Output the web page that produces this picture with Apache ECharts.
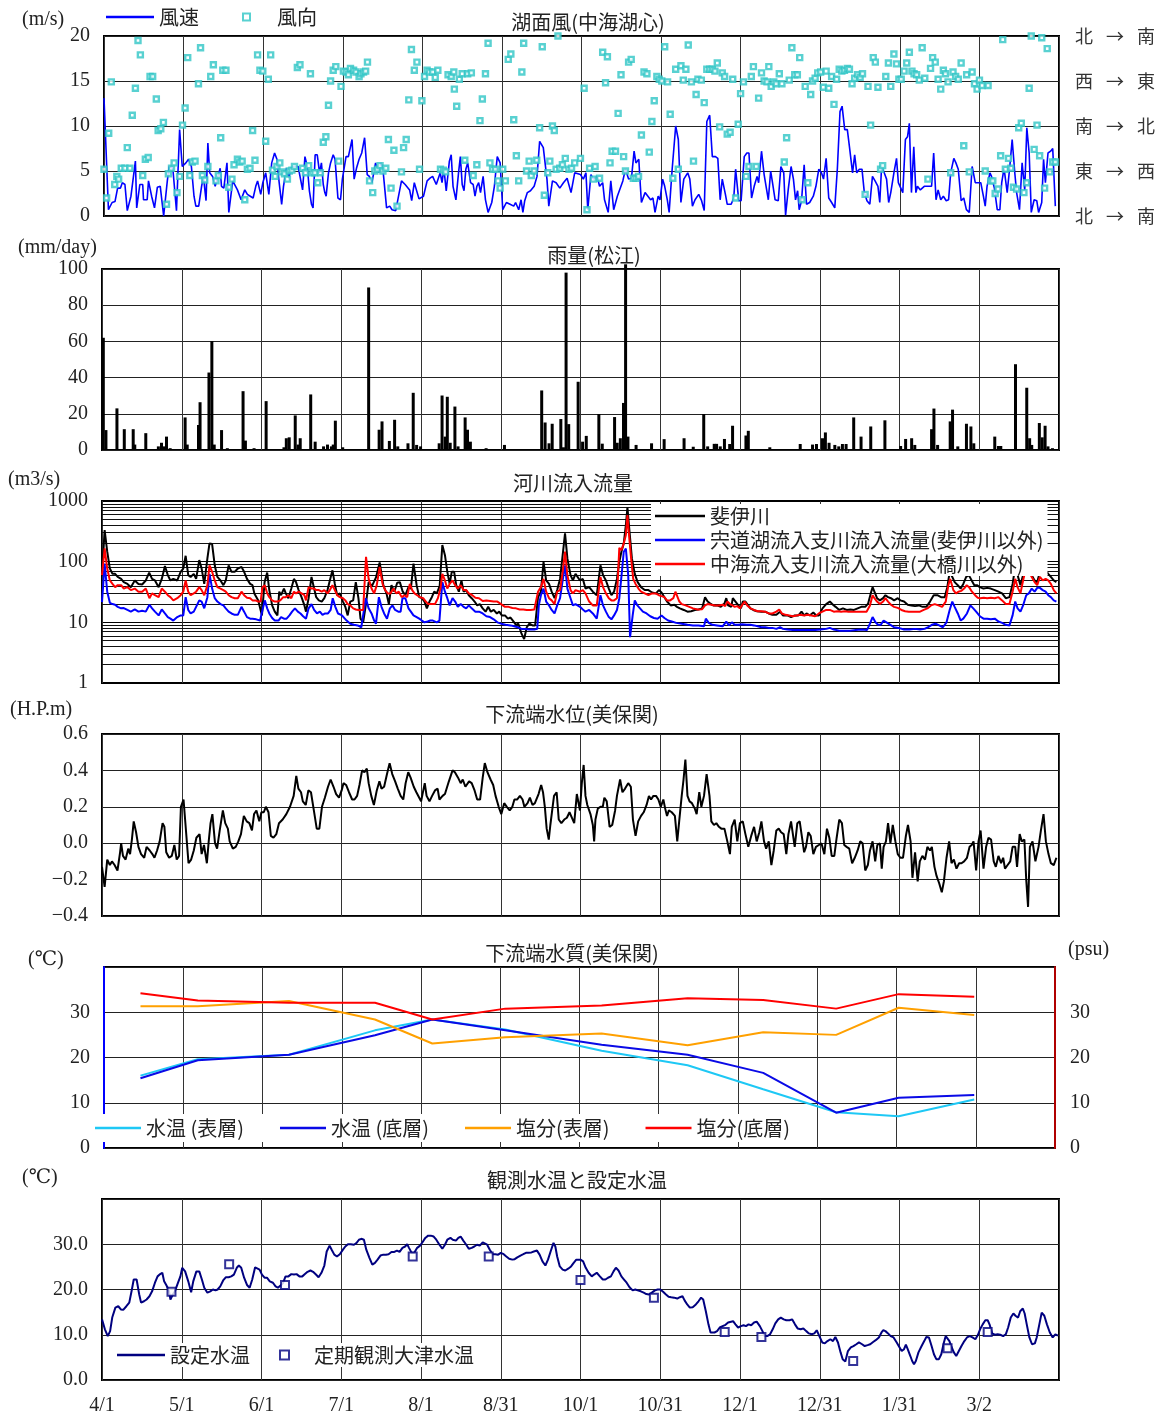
<!DOCTYPE html>
<html><head><meta charset="utf-8">
<script src="https://cdn.jsdelivr.net/npm/echarts@6/dist/echarts.min.js"></script>
<style>html,body{margin:0;padding:0;background:#fff}#c{width:1164px;height:1421px}</style>
</head><body><div id="c"></div>
<script>
// ---------- tick labels ----------
const xLabels = ['4/1','5/1','6/1','7/1','8/1','8/31','10/1','10/31','12/1','12/31','1/31','3/2'];
const dirLabels = ['北\u2002 → \u2002南','東\u2002 → \u2002西','南\u2002 → \u2002北','西\u2002 → \u2002東','北\u2002 → \u2002南'];
const minorLogLines = [2,3,4,5,6,7,8,9,20,30,40,50,60,70,80,90,200,300,400,500,600,700,800,900];

// ---------- 湖面風 (day, m/s) ----------
const windSpeed = [[0,13.1],[1.7,0.7],[3.1,1.5],[4.2,1.6],[5.2,3.1],[6.3,3.1],[7,3.7],[8,3.5],[8.9,0.6],[10.3,2.2],[12,6.1],[12.5,0.9],[13.7,3.5],[14.8,3.5],[15.1,1.8],[16.5,1.8],[17,3.9],[18.2,2.2],[19.3,0.9],[20.4,3.2],[21.5,3.3],[22.8,0],[24.2,3.9],[24.9,5.5],[26.3,5.3],[27.7,0.6],[28.9,9.6],[29.9,5.5],[31.3,5.9],[32.3,6.3],[33.4,5.5],[34.4,2.2],[35.1,1.1],[36.2,1.1],[37.3,3.3],[38,4.4],[39,1.7],[39.7,8.1],[40.4,4.8],[41.5,4.4],[42.5,3.3],[43.2,4.1],[44.4,5.3],[44.9,3.3],[45.8,3.1],[47,5.9],[47.7,0.4],[49.2,3.9],[51,2.9],[52.4,1.8],[53.8,2.9],[54.8,2.4],[55.9,2.2],[57,2],[58,3.3],[58.7,3.9],[59.9,2.4],[60.7,3.7],[61.8,4.8],[63,2.4],[64.1,5.9],[65.2,7],[66.1,6.3],[66.8,4.1],[67.9,1.3],[68.6,3.3],[69.7,5.3],[70.7,4.2],[71.4,5.3],[72.8,5.5],[74.2,5.5],[74.9,5.7],[75.9,2.9],[76.8,6.6],[77.7,5.5],[78.5,2.8],[79.3,1.3],[79.9,0.9],[80.7,6.8],[81.5,6.8],[82.4,4.8],[83.1,5.9],[83.8,3.5],[84.4,2.6],[84.9,2.2],[85.8,4.8],[86.6,5.9],[87.6,6.8],[88.3,6.3],[89.4,2],[90.4,1.8],[91.1,4.1],[92.5,6.6],[93.4,6.6],[94.8,8.5],[95.6,4.1],[96.5,5.3],[97.5,6.3],[98.5,7],[99.6,8.7],[100.6,4.6],[101.4,4.4],[102.4,3.7],[103.1,4.8],[103.8,5.9],[104.9,4.8],[105.9,5.9],[106.6,5.2],[108,0.9],[109.2,1.1],[110.1,0.7],[111.5,0.6],[113.7,3.9],[115.1,3.5],[115.8,3.3],[116.8,2.9],[117.6,1.7],[118.6,3.7],[119.3,3.9],[120.4,1.9],[121,2],[122.1,2.2],[122.8,2],[123.5,3.9],[124.6,4.2],[125.6,4.4],[127,3.5],[128.5,4.8],[129.2,3.7],[129.9,5.3],[130.8,2.8],[132,6.1],[132.7,6.8],[133.4,3.3],[134.5,1.8],[135.5,4.8],[136.2,6.6],[136.9,3.5],[137.6,2.8],[138.3,5.2],[139,5.9],[140.1,3.7],[141.1,3.5],[141.8,2.2],[142.5,3.3],[143.2,3.7],[143.9,2.6],[144.9,4.4],[145.8,1.8],[146.8,0.4],[148.2,1.5],[149.2,3.3],[150.3,6.6],[151.4,5.9],[152.4,0.7],[153.8,1.5],[155.2,1.3],[156.6,1.1],[157.3,1.5],[158.5,0.7],[159.4,1.8],[160.1,0.4],[160.8,1.7],[161.8,2.6],[163,2.8],[164.4,3.3],[165.5,4.4],[166.5,8.3],[167.9,7.6],[169.3,4.1],[170,1.1],[170.7,1.1],[171.4,3.9],[172.8,3.7],[174.2,3.1],[175.6,3.7],[177,4.2],[178.5,2.6],[179.9,4.8],[182.1,4.6],[183.2,4.1],[184.2,4.8],[184.9,0.7],[186.1,4.6],[187,4.1],[188.5,4.4],[189.4,3.3],[190.6,3.7],[191.3,1.8],[192.7,0.4],[193.7,3.9],[194.8,0.7],[196.2,2.2],[196.9,2.4],[198.3,3.9],[199.3,5.2],[200.5,4.1],[201.6,4.2],[202.6,7.2],[203.3,5.9],[204.4,6.3],[205,3.3],[205.4,1.5],[206.8,2.6],[207.5,2.4],[208.9,1.8],[209.8,2],[210.6,0.4],[211.8,2.2],[212.5,1.8],[213.5,4.1],[214.3,3.3],[215.3,1.8],[216,0.4],[217.1,5],[218.5,10],[219.5,8.5],[220.5,1.5],[221.6,4.1],[223.1,4.8],[223.9,4.1],[224.9,1.1],[225.9,1.8],[227.3,2.4],[228.4,1.7],[229.4,0.6],[230.4,10.5],[231.5,11.2],[232.5,6.6],[233.7,6.6],[234.6,6.4],[235.5,1.8],[236.3,4.1],[237.5,2.4],[238.2,1.3],[238.9,1.1],[239.7,1.3],[240.7,2],[241.4,5.2],[242.6,1.7],[243.5,1.7],[244.7,6.6],[245.7,7],[246.5,7],[247.5,2],[248.5,3.3],[249.6,4.4],[250.2,3.7],[251.3,7.2],[252.3,4.6],[253,4.4],[253.9,1.8],[254.8,5],[255.5,3.7],[256.5,1.8],[257.7,1.7],[258.7,5.5],[259.8,4.8],[260.5,0.1],[261.5,2.9],[262.6,5.5],[263.5,4.1],[264.3,1.8],[265.1,2.8],[265.7,0.7],[266.6,1.7],[267.6,5.7],[268.5,1.3],[269.7,1.5],[271.1,2.2],[272.1,3.3],[273.2,5.2],[274.2,4.8],[275,4.1],[276,6.4],[277,2],[278.1,1.5],[279.3,0.9],[280.3,5.3],[281.3,11.6],[282.1,12.2],[283.1,9.6],[284.1,9.6],[284.9,7.7],[286.1,4.8],[286.9,6.8],[287.7,4.8],[288.7,5.2],[289.7,5.2],[290.6,2.6],[291.6,1.7],[292.7,1.3],[293.7,4.4],[294.7,3.9],[295.8,3.3],[296.5,1.5],[297.2,5.5],[298.2,4.8],[299.1,4.1],[299.9,1.5],[300.7,2.6],[301.9,4.8],[302.9,6.4],[303.6,3.7],[305.3,2.6],[306.3,8.5],[307.1,8.8],[307.8,10.3],[308.6,2.6],[309.5,7.7],[310.3,2.6],[310.9,3.3],[312,2.9],[313.5,3.3],[315.1,3.3],[316.3,3.3],[317.1,7],[318,1.8],[318.8,2.9],[319.8,1.8],[320.8,2.2],[321.9,1.7],[322.8,1.8],[323.6,4.8],[324.8,6.4],[325.6,5.9],[326.5,5.2],[327.6,1.7],[328.6,2],[329.6,0.7],[330.7,0.4],[331.8,5.5],[333,3.7],[334.1,3.7],[335.1,3.7],[336.1,2.2],[336.8,1.1],[337.5,3.3],[338.6,4.8],[339.2,4.4],[340.3,3.1],[341.4,0.7],[342.4,0.7],[343.1,3.7],[344,5.3],[345.2,2.6],[346.2,5.5],[347.1,8.5],[348.1,4.8],[348.8,2.6],[349.9,0.7],[350.9,5.9],[351.9,2.9],[352.7,9.8],[353.6,7],[354.4,0.4],[355.5,1.8],[356.5,1.7],[357.2,0.4],[358.4,1.5],[359.1,6.3],[359.8,3.7],[360.8,7],[361.8,7.2],[362.6,7.5],[363.6,1.1]];

const windDir = [[0,5.2],[1,2],[1.8,9.2],[2.8,14.9],[4.1,3.5],[4.9,4.4],[5.6,4.1],[6.6,5.3],[8,5.3],[8.9,7.6],[9.9,5.3],[10.8,11.2],[12,14.2],[13,19.5],[13.9,17.9],[14.8,4.5],[15.8,6.3],[16.9,6.5],[17.6,15.5],[18.6,15.5],[20,13],[20.7,9.5],[21.7,9.7],[22.7,10.4],[23.9,1.3],[24.6,4.7],[25.8,5.3],[26.8,5.9],[27.9,2.6],[28.9,4.4],[30,10.1],[31,12],[32,17.6],[32.8,4.5],[33.7,6],[34.8,6.1],[36.1,14.7],[36.9,18.7],[37.6,4.5],[38.5,4],[39.7,5.5],[40.8,15.5],[41.8,16.8],[42.8,3.9],[43.7,4.5],[44.6,8.7],[45.4,16.2],[46.6,16.2],[47.7,3.2],[48.9,4.1],[49.7,5.7],[51,6.3],[51.9,6],[52.8,6.1],[53.8,1.8],[54.8,5.2],[55.8,5.3],[56.8,9.5],[57.7,6.2],[58.7,17.9],[59.6,16.2],[60.7,16.1],[61.8,8.3],[62.8,15.2],[63.7,17.9],[64.4,5.1],[65.4,4.4],[66.1,5.5],[67.2,5.9],[68,4.9],[69,4.7],[70.1,4.1],[70.8,5],[71.8,5.1],[72.8,5.5],[73.9,16.5],[74.9,16.8],[75.9,5.3],[77,4.8],[78.2,5.6],[78.9,15.8],[79.6,4.8],[80.6,4.8],[81.7,3.7],[82.7,4.8],[83.8,8.2],[84.8,8.8],[85.8,12.3],[86.6,15],[87.6,16.2],[88.6,16.6],[89.7,6.1],[90.6,14.4],[91.5,16.1],[92.5,16],[93.4,15.7],[94.2,16.4],[95.4,16.2],[96.3,16],[97.5,15.5],[98.2,15.8],[99.2,16],[100,16.1],[100.7,17.1],[101.5,3.9],[102.7,2.6],[103.5,5],[104.5,5.2],[105.5,5.6],[106.6,5],[107.7,5.3],[108.7,8.5],[109.7,3.1],[110.8,7.3],[112,1.1],[113.7,4.9],[114.5,7.6],[115.5,8.5],[116.5,12.9],[117.5,18.5],[118.6,16.2],[119.6,17.1],[120.6,5.2],[121.5,12.8],[122.5,15.5],[123.5,16.2],[124.4,16],[125.6,16],[126.6,15.4],[127.6,16.2],[128.6,5.2],[129.7,5.1],[130.6,4.9],[131.5,15.7],[132.7,15.5],[133.7,16],[133.9,14.1],[134.8,12.2],[135.8,15.2],[136.9,15.8],[137.9,6.2],[139,15.8],[140.4,15.9],[141.1,4.5],[142.5,5.7],[143.7,10.6],[144.6,13],[145.8,15.8],[146.8,19.2],[147.5,5.9],[148.5,5.2],[149.6,5.2],[150.6,3.9],[151.4,3.1],[152.4,5.2],[153.4,3.9],[154.5,17.4],[155.5,18],[156.6,10.7],[157.6,6.7],[158.5,3.9],[159.7,16],[160.4,19.2],[161.5,5],[162.5,6.1],[163.3,4.5],[164.4,5],[165.4,6.2],[166.5,9.8],[167.5,18.8],[168.3,2.3],[169.6,4.8],[170.4,6.1],[171.4,10],[172.1,9.5],[172.8,5.2],[173.5,20],[174.2,5.3],[175.2,5.7],[176.3,6.4],[177.7,5.2],[178.7,5.3],[179.9,5.9],[182.1,6.4],[183.5,14.2],[184.6,0.7],[185.6,5.3],[187,4.1],[187.7,5.5],[189.4,4.2],[190.6,18.2],[191.7,14.8],[192.4,17.7],[193.4,5.9],[194.2,7.2],[195.5,7.2],[196.5,11.4],[197.6,15.7],[198.6,6.6],[199.3,5],[200.5,17.1],[201.5,17.4],[202.3,4.2],[203.3,4.2],[204.3,4.4],[205.4,9],[206.4,16],[207.5,15.8],[208.4,7.1],[209.4,10.5],[210.3,12.8],[211.3,15.5],[212.2,15.2],[213.2,15],[214.3,18.8],[215.4,14.9],[216.4,11.3],[217.4,4.2],[218.5,16.3],[219.5,5.2],[220.5,16.7],[221.4,15.1],[222.4,16.3],[223.3,19],[224.5,14.9],[225.3,6.1],[226.3,13.5],[227,15.2],[228.3,15.1],[229.4,12.6],[230.4,16.3],[231.5,16.3],[232.5,16.3],[233.5,16.1],[234.4,17],[235.3,9.9],[236.3,15.9],[237.2,15.5],[238.2,9.1],[239.3,9.3],[240.3,15.2],[241.4,2],[242.4,10.2],[243.3,13.6],[244.4,14.9],[245.4,4.4],[246.5,5.5],[247.4,15.5],[248.2,16.6],[249.3,5.5],[250.2,13.1],[251.3,15.9],[252.3,15],[253.4,14.9],[254.1,16.6],[255,14.4],[256,14.9],[256.9,14.7],[258.1,15.8],[259.1,14.7],[260,6],[260.9,8.7],[261.9,15.1],[262.9,18.7],[264,15.7],[265,15.7],[265.9,17.6],[266.8,1.8],[268,14.4],[269,3.7],[270.1,13.5],[270.8,15],[271.8,15.3],[272.8,15.9],[273.9,16],[274.9,14.3],[276,16.1],[277,14.2],[278.1,15.5],[279,12.4],[280,15.2],[281,16.3],[282,16.1],[283,16.2],[284.1,16.4],[284.9,16.3],[285.9,14.7],[286.9,15.3],[288,15.7],[289,15.4],[289.9,15.8],[290.9,2.4],[292,14.4],[293,10.1],[294,17.6],[294.8,17.1],[295.8,14.3],[296.8,5.2],[297.6,5.6],[298.8,15.5],[299.8,17],[300.7,14.4],[301.9,18],[302.9,16.9],[303.8,15.2],[304.7,15.2],[305.8,16.1],[306.8,17],[307.8,18.2],[308.8,16.1],[309.6,15.8],[310.6,15.7],[311.6,15.1],[312.7,18.7],[313.7,15.3],[314.9,4.1],[315.9,16.4],[316.7,17.6],[317.7,17.1],[318.8,15.2],[319.8,14.1],[320.8,16.2],[321.6,15.8],[322.6,14.9],[323.6,4.8],[324.5,16],[325.5,15.5],[326.5,15.2],[327.6,17],[328.6,7.8],[329.7,15.7],[330.7,4.9],[331.8,16],[332.7,14.7],[333.7,14.1],[334.6,15.1],[335.6,14.5],[336.8,5],[337.9,14.5],[338.9,3.9],[339.7,3.9],[340.6,2.5],[341.7,3],[342.7,6.7],[343.5,19.6],[344.5,5.2],[345.7,6.4],[346.6,5.3],[347.6,3.2],[348.8,3],[349.6,9.8],[350.6,10.3],[351.6,2.6],[352.6,3.7],[353.6,14.2],[354.4,20],[355.5,7.4],[356.6,10.1],[357.6,6.7],[358.4,19.8],[359.5,3.1],[360.5,18.6],[361.5,4.9],[362.6,6],[363.6,6]];

// ---------- 雨量 (day, mm/day) ----------
const rain = [[0.5,62],[1.5,11],[5.7,23],[8.5,11.5],[11.9,11.5],[12.5,3],[16.7,9.3],[21.5,2],[22.7,4],[23.5,2],[24.6,7.4],[26,1],[31.7,18],[32.5,3],[36.8,13.8],[37.4,26.4],[40.8,42.8],[41.9,60.2],[42.8,3],[45.6,11],[47.8,1],[53.8,32.5],[54.7,5.2],[58,1],[62.6,27],[69.4,1.5],[70.3,6.5],[71.4,7],[73.7,19.1],[74.8,3],[75.6,6.5],[79.6,30.7],[81.3,4.6],[84.5,2],[86,3],[87.5,2],[88.2,3],[89,16.2],[91.8,1.5],[101.7,89.8],[105.7,11.2],[106.8,15.8],[109.6,5],[111.6,16.7],[112.8,2],[116.7,3.7],[118.7,31.6],[120,2.8],[121.5,2],[128.6,3.7],[129.7,30.1],[130.9,7.4],[131.7,29.4],[132.8,4],[134.6,24],[135.8,2],[138.5,18],[139.4,11.2],[140.5,4.6],[146.5,1],[153.5,2.8],[167.7,32.9],[169,15.2],[170.5,3.7],[171.7,14.5],[175,17.1],[176,1.5],[177,98],[178,14.3],[181.6,37.7],[183.3,4.6],[184.7,7.8],[189.5,19.9],[190.8,3.5],[195.5,18.2],[196.5,4],[197.7,6.5],[198.9,26],[199.7,102.6],[200.6,7.4],[203.7,2.8],[209.6,3.7],[214.4,6],[222,6.5],[225.5,1.8],[229.5,19.9],[231,2],[233.5,3.4],[234.4,3.4],[235.8,2],[237.4,6.1],[239.4,3.3],[240.5,13.4],[245.6,8],[246.5,10.6],[254.7,1.5],[266.3,3.3],[271,3],[272.5,3.3],[274.8,6.5],[275.9,9.7],[277.3,4],[279.5,2.8],[281,2],[282.4,3.3],[283.8,3.3],[286.7,18],[289.5,7.4],[293.2,13],[298.6,16.4],[304.6,2.2],[306.5,6.1],[308.8,6.5],[310,2.8],[316.4,11.5],[317.3,22.9],[318.7,2.8],[323.5,15.8],[324.4,22.3],[326.4,2],[329.7,14.5],[331.4,13],[332.5,3.7],[340.5,7.4],[341.9,2.2],[342.8,2.2],[348.4,47.4],[352.7,34.4],[353.8,6.5],[354.6,2.8],[357.5,14.9],[358.6,7],[359.7,13.4],[360.8,2],[362.5,1]];

// ---------- 河川流入流量 (day, m3/s) ----------
const flowHii = [[0,60],[1,331],[2,146],[3,77],[4,63],[5,63],[6,56],[7.3,52],[8.3,46],[9.7,43],[11,38],[12.5,49],[13.9,43],[15.3,42],[16.7,49],[18,66],[19.1,52],[20.2,49],[21.6,38],[22.8,52],[24,85],[25.1,60],[26.1,49],[27.2,52],[28.7,49],[30,68],[31,77],[31.9,125],[32.9,60],[33.8,56],[35,63],[35.9,52],[37.1,106],[38,77],[39,43],[40.2,113],[41,200],[42,195],[43,87],[44,56],[45.2,49],[46.3,41],[47.2,49],[48.3,87],[49.4,68],[50.6,68],[51.8,77],[53.2,82],[54.2,68],[55.3,52],[56.5,43],[57.4,41],[58.1,30],[59.6,23],[60.3,22],[61,13],[62,46],[63,66],[63.8,34],[64.9,19],[65.9,15],[66.9,13],[67.6,32],[68.3,28],[69.4,36],[70.1,30],[71.1,25],[72.2,36],[73.2,52],[74,46],[75,34],[76.1,26],[77.2,19],[77.8,15],[78.8,25],[79.9,56],[80.9,36],[81.7,26],[82.7,23],[83.8,22],[84.8,25],[86,34],[86.9,49],[87.9,72],[88.8,43],[89.7,28],[90.7,30],[91.9,22],[92.8,18],[93.7,13],[94.7,22],[95.8,23],[96.8,46],[97.8,25],[98.6,11.5],[99.6,10],[100.6,19],[101.7,46],[103,40],[104.5,55],[105.9,97],[107.3,41],[108.5,30],[109.4,20],[110.4,41],[111.5,32],[112.6,45],[113.6,46],[114.7,32],[115.7,28],[116.9,38],[117.8,36],[118.8,93],[120,41],[121,26],[122,25],[123,22],[123.9,17],[124.9,22],[125.8,26],[126.7,32],[127.7,30],[128.8,40],[129.8,188],[130.8,128],[131.7,68],[132.6,43],[133.4,68],[134.3,68],[135.1,41],[136.1,32],[137.1,49],[137.9,32],[138.9,34],[139.9,28],[141,25],[142.1,22],[143.1,19],[144.1,20],[145.2,17],[146.3,15],[147.3,18],[148.3,15],[149.4,16],[150.6,14],[151.5,15],[152.5,13],[153.7,13],[154.8,11.5],[155.8,12],[156.7,10.7],[157.9,9.1],[158.8,9.5],[160,6.5],[161,5.3],[162,8.3],[163,9.5],[164.2,8.9],[165.2,8.9],[166.3,26],[167.4,32],[168.4,99],[169.4,49],[170.5,43],[171.5,32],[172.6,25],[173.6,34],[174.7,52],[175.7,128],[176.6,293],[177.5,113],[178.7,60],[179.6,49],[180.6,63],[182.3,49],[183.4,52],[184.4,36],[185.8,38],[187.2,32],[188.7,28],[190.1,87],[191.1,60],[192.2,49],[193.3,36],[194.3,28],[195.3,32],[196.4,52],[197.3,99],[198.1,146],[199,200],[199.8,400],[200.4,780],[201.2,310],[202.1,113],[203.2,63],[204.3,46],[205.6,38],[207,34],[208.4,34],[209.8,31],[211.3,30],[212.4,34],[213.4,31],[214.5,26],[215.5,22],[216.9,19],[218.3,19.5],[219.3,18],[220.4,17],[221.9,16],[223.3,15],[224.7,15.2],[226.1,16],[227.5,16.3],[228.9,17],[230,26],[231,22],[232,20.4],[233.1,19],[234.6,19],[236,18],[237.4,20.4],[238.1,25],[238.8,19],[240,18],[240.6,25],[241.6,22],[242.7,19],[243.7,17],[244.4,22],[245.4,22],[246.3,19.5],[247.3,17],[248.4,16],[249.8,15.2],[251.5,15],[252.9,15],[254.3,14],[255.7,13.3],[257.2,13.3],[258.6,15],[259.7,13],[261.4,13],[262.8,12.2],[264.2,13],[265.6,13],[266.8,15],[267.8,13],[268.7,14],[269.9,13],[271.3,14.5],[272.4,13],[273.4,13],[274.8,17],[276.2,20],[277.6,22],[278.8,19.5],[279.8,18],[281.2,16],[282.6,17],[284,16],[285.4,16.3],[286.8,16],[288.2,17],[289.6,18],[291.1,18],[292.2,20.4],[293.2,30],[293.9,38],[294.6,32],[295.6,25],[296.7,23],[297.9,25],[298.8,28],[299.8,26],[300.9,25],[302.1,23],[303.5,25],[304.5,23],[305.9,22],[307.3,19.5],[308.7,19],[310.1,18.5],[311.5,19],[313,18],[314.4,18],[315.8,22],[317.2,28],[318.6,28],[320,26],[321.4,26],[322.4,38],[323.3,68],[324.3,56],[325.2,46],[326.4,41],[327.5,36],[328.5,43],[329.6,56],[330.6,60],[331.7,49],[332.7,41],[333.7,41],[334.8,38],[336.2,36],[337.6,37],[339,36],[340.5,34],[341.9,32],[343.3,30],[344.7,25],[346.1,26],[347.3,43],[348.3,82],[348.9,68],[349.6,52],[350.3,41],[351.3,60],[352.5,82],[353.5,72],[354.6,60],[355.7,49],[356.7,46],[357.7,68],[358.8,68],[359.9,72],[360.9,63],[361.9,56],[363,49],[364,46]];

const flowShinji = [[0,21.5],[1,93],[2,32],[3,21],[4,20],[5,19.5],[6,18],[7.3,17],[8.3,17.2],[9.7,16],[11,15],[12.5,16.3],[13.9,15],[15.3,15.5],[16.7,15],[17.4,14],[18.1,19.5],[19.1,17],[20.2,15],[21.6,13],[22.8,16.3],[24,14],[25.1,12.2],[26.1,11.5],[27.2,10.7],[28.7,12.2],[30,13],[31,13],[31.9,26],[32.9,16],[33.8,14],[35,15],[35.9,18],[37.1,23],[38,22],[39,17],[40.2,26],[41,63],[42,36],[43,25],[44,22],[45.2,20],[46.3,19],[47.2,17],[48.3,15],[49.4,14],[50.6,13.3],[51.8,13.3],[53.2,18],[54.2,15],[55.3,12.2],[56.5,11.5],[57.4,11.5],[58.8,11.2],[60.3,10.7],[61.2,16],[62.1,23],[63,17],[63.8,14],[64.9,11.8],[65.9,10.7],[67.3,10.7],[68.3,12.2],[69.4,11.5],[70.4,11.5],[71.5,13],[72.5,15],[73.6,17],[74.7,15],[75.7,14],[76.7,12.6],[77.8,11.5],[78.8,17],[79.9,20],[80.9,16],[82,14],[83.1,15],[84.1,13.3],[85.1,14],[86.2,14],[87.2,16],[88,25],[89,18],[90,14],[91.2,13.3],[92.1,12.2],[93.3,10.7],[94.7,9.5],[96.1,9.1],[97.5,8.9],[98.9,8.3],[99.6,8.3],[100.6,25],[101.7,17],[102.8,14],[103.8,10.7],[104.5,9.5],[105.6,26],[106.6,18],[107.6,14],[108.7,11.5],[109.8,17],[110.8,19],[111.8,16],[113,15],[113.9,15],[114.6,25],[115.7,25],[116.9,17],[117.8,15],[118.8,13],[120,12.2],[121,11.5],[122,10.7],[123,10],[124.2,10.3],[125.2,10.7],[126.2,10.7],[127.7,10],[128.7,10.7],[129.8,46],[130.8,32],[131.7,25],[132.6,19],[133.7,25],[134.7,22],[135.7,18],[136.8,20],[137.9,18],[138.9,17],[139.9,19],[141,17],[142.4,15],[143.8,15],[145.2,14],[146.6,12.6],[148,12.2],[149.4,11.2],[150.8,10],[152.2,9.5],[153.9,9.1],[155.8,8.9],[157.2,8.6],[158.6,8.3],[160,7.8],[161.4,7.8],[162.8,7.6],[164.9,7.6],[166,7.8],[166.6,19],[167.4,28],[168.4,36],[169.4,22],[170.5,19],[171.5,16],[172.6,14],[173.6,19],[174.7,25],[175.7,49],[176.6,87],[177.5,36],[178.7,25],[179.6,19],[180.6,20],[182.3,18],[183.4,16.3],[184.4,15],[185.8,16],[187.2,14],[188.7,11.5],[190.1,28],[191.1,19],[192.2,15],[193.3,12.2],[194.3,11.2],[195.3,13],[196.4,16],[197.3,25],[198.1,56],[199,146],[199.8,164],[200.7,60],[201.4,5.7],[202.4,13],[203.2,23],[204.2,19],[205.2,17],[206.3,15],[207.7,14],[209.1,12.6],[210.5,11.8],[211.9,11.5],[213.4,13],[214.5,11.8],[215.9,10.7],[217.3,10.3],[219,9.8],[221.1,9.5],[223.3,9.1],[225.4,8.9],[227.5,8.9],[229.6,8.6],[230.3,11.5],[231.4,9.8],[232.8,9.1],[234.6,8.9],[236.7,8.6],[238.1,10.3],[239.1,8.9],[240.2,10],[241.3,9.1],[242.7,9.1],[244.2,9.3],[245.9,9.1],[247.3,9.1],[248.7,8.9],[250.1,8.6],[251.5,8.3],[252.9,8.3],[254.3,8.1],[255.7,8.1],[257.2,7.8],[258.6,8.3],[259.7,7.8],[261.4,7.6],[263.5,7.5],[265.6,7.5],[267.8,7.5],[270,7.5],[272,7.5],[274.1,7.6],[276.2,7.8],[277.6,8.1],[279.1,7.6],[281.2,7.3],[283.3,7.3],[285.4,7.3],[287.5,7.5],[289.6,7.6],[291.8,7.5],[292.9,9.5],[293.9,12.2],[295,10],[296,9.1],[297,9.1],[298.1,10.7],[299.2,10],[300.7,9.1],[302.1,8.3],[303.8,8.1],[305.9,7.6],[308,7.6],[310.1,7.8],[312,7.6],[313.7,7.8],[315.1,8.3],[316.5,9.1],[317.9,9.5],[319.3,8.9],[320.7,8.3],[322.1,10],[323.3,16],[324.3,22],[325.2,18],[326.4,14],[327.5,10.7],[328.5,11.5],[329.9,14],[331.2,19],[332.3,17],[333.4,15],[334.8,12.6],[336.2,11.5],[337.6,11.5],[339,11.2],[340.5,11.5],[341.9,10.3],[343.3,9.8],[344.7,9.1],[346.1,8.9],[347.3,13],[348.3,22],[349.2,17],[350.3,15],[351.3,19],[352.5,28],[353.5,30],[354.6,36],[355.7,32],[356.7,37],[357.7,37],[358.8,34],[359.9,32],[360.9,28],[361.9,26],[363,23],[364,22]];

const flowNakaumi = [[0,60],[1,165],[2,77],[3,49],[4,43],[5,38],[6,41],[7.3,41],[8.3,36],[9.7,38],[11,34],[12.5,36],[13.9,32],[15.3,32],[16.7,36],[17.4,38],[18.1,25],[19.1,30],[20.2,28],[21.6,26],[22.8,36],[24,32],[25.1,28],[26.1,26],[27.2,23],[28.7,25],[30,28],[31,32],[31.9,49],[32.9,32],[33.8,28],[35,30],[35.9,32],[37.1,38],[38,34],[39,28],[40.2,41],[41,87],[42,68],[43,49],[44,38],[45.2,36],[46.3,34],[47.2,32],[48.3,28],[49.4,26],[50.6,25],[51.8,25],[53.2,32],[54.2,28],[55.3,25.5],[56.5,25],[57.4,23],[58.5,23],[59.6,22],[60.5,22],[61.2,38],[62.1,41],[63,30],[63.8,26],[64.9,23],[65.9,22],[66.9,22],[68,23],[69.1,26],[70.1,26],[71.1,28],[72.2,25],[73.2,32],[74,30],[75,32],[76.1,30],[77.2,28],[77.8,23],[78.8,38],[79.9,36],[80.9,36],[81.7,34],[82.7,34],[83.8,32],[84.8,34],[86,30],[86.9,34],[87.9,41],[88.8,34],[89.7,28],[90.7,26],[91.9,25],[92.8,23],[93.7,20],[94.7,19],[95.8,17],[96.8,16.3],[97.8,16],[98.6,16],[99.6,16],[100.7,120],[101.7,52],[102.8,36],[103.8,30],[104.8,41],[105.9,82],[107,43],[108,34],[109,30],[110,30],[111.2,36],[112.2,30],[113.2,32],[114.3,26],[115.4,28],[116.4,26],[117.4,43],[118.3,34],[119.2,30],[120.2,28],[121.3,26],[122.5,25],[123.5,22],[124.4,20],[125.6,20],[127,20],[128.1,25],[129.1,36],[129.8,63],[130.8,49],[131.7,36],[132.6,43],[133.7,49],[134.7,41],[135.7,36],[136.8,41],[137.9,34],[138.9,34],[139.9,30],[141,28.5],[142.4,25.5],[143.8,25],[145.2,22.5],[146.6,23],[148,22.5],[149.4,22],[150.8,22],[152.2,20],[153.7,18],[155.1,18],[156.5,17.2],[157.9,17],[159.3,16.3],[160.7,16.3],[162,16],[163.5,16],[164.9,16.3],[166.3,32],[167.4,38],[168.4,52],[169.4,32],[170.5,25],[171.5,23],[172.6,20],[173.6,32],[174.7,34],[175.7,68],[176.6,146],[177.5,60],[178.7,34],[179.6,30],[180.6,34],[182.3,32],[183.4,34],[184.4,30],[185.8,22],[187.2,19],[188.7,19],[190.1,56],[191.1,38],[192.2,30],[193.3,25],[194.3,23],[195.3,23],[196.4,25],[197.3,169],[198.1,155],[199,200],[199.8,275],[200.4,585],[200.9,310],[201.8,113],[202.6,52],[203.5,43],[204.6,36],[205.6,32],[207,30],[208.4,28],[209.8,30],[211.1,30],[212.4,28],[213.4,27],[214.5,26],[215.5,23],[216.7,23],[217.9,25],[218.7,32],[219.4,31],[220.2,22],[221.1,20],[222.6,19],[224,18],[225.4,17],[227.2,16.3],[228.9,16.5],[230,19],[231,20],[232.4,19.5],[233.9,19],[235.3,19],[236.7,19.5],[237.7,18.5],[238.5,22],[239.5,20],[240.5,19],[241.3,18],[242.3,18.5],[243.3,17],[244.4,20],[245.1,22],[246.1,19],[247.3,17],[248.7,16],[250.1,15.2],[251.5,15.2],[252.9,15],[254.3,14],[255.7,14],[257.2,15],[258.3,16.3],[259.3,14],[260.7,13.3],[262.1,13],[263.5,12.6],[264.9,13],[266.3,13.3],[267.8,13],[269.2,13.3],[270.6,13],[272,12.6],[273.4,14],[274.8,15],[276.2,16],[277.6,16],[279.1,15],[280.5,15.2],[281.9,15],[283.3,15.2],[284.7,15],[286.1,15],[287.5,15],[288.9,15],[290.3,15],[291.6,15],[292.9,19],[293.9,28],[294.6,25],[295.6,22],[296.7,20],[297.9,22],[298.8,25],[299.8,22],[300.9,19.5],[302.1,18],[303.5,17.3],[304.9,16],[306.3,15.2],[307.7,15],[309.1,15],[310.5,15],[312,15],[313.4,16],[314.8,17],[316.2,19],[317.6,20],[319,19],[320.4,18],[321.8,22],[322.8,41],[323.5,52],[324.7,34],[325.7,30],[326.6,32],[327.7,33],[328.8,36],[329.8,41],[330.7,38],[331.8,32],[333,28],[334,25.5],[335,25],[336.3,25.5],[337.6,25],[339,25.5],[340.5,25],[341.9,26],[343.3,23],[344.7,20],[346.1,20],[347.3,32],[348.3,52],[349.2,38],[350.3,30],[351.3,49],[352.5,82],[353.5,68],[354.6,56],[355.7,46],[356.7,41],[357.7,56],[358.8,49],[359.9,52],[360.9,49],[361.9,43],[363,34],[364,30]];

// ---------- 下流端水位 (day, H.P.m) ----------
const waterLevel = [[0,-0.13],[1,-0.24],[2,-0.09],[3,-0.12],[3.8,-0.1],[4.8,-0.12],[5.9,-0.15],[6.9,-0.05],[7.3,0],[8,-0.07],[9,-0.09],[10,-0.03],[10.7,-0.06],[11.4,0.02],[12.1,0.12],[13,0.06],[13.9,-0.02],[14.9,-0.06],[16.1,-0.08],[17,-0.02],[18.2,-0.04],[19.2,-0.06],[20,-0.08],[21,-0.04],[22,0.01],[23.1,0.11],[23.8,0.09],[24.5,-0.05],[25.6,-0.08],[26.6,-0.07],[27.6,-0.01],[28.5,-0.09],[29.4,-0.07],[30.1,0.2],[31.1,0.24],[33,-0.11],[34,-0.09],[35,-0.04],[36,0.03],[37.2,0.05],[38,-0.06],[38.9,-0.01],[40,-0.11],[40.7,0.01],[41.4,0.11],[42.1,0.16],[43.1,0],[43.9,-0.03],[44.9,0.07],[46.1,0.18],[47,0.11],[48,0.08],[48.7,0.01],[49.9,-0.03],[51,-0.02],[52,0.01],[53,0.05],[54.1,0.15],[55.2,0.12],[56.2,0.11],[57.2,0.07],[58,0.16],[58.9,0.18],[60,0.12],[60.8,0.17],[61.7,0.17],[62.5,0.2],[63.5,0.17],[64.4,0.04],[65.4,0.03],[66.5,0.05],[67.5,0.11],[68.9,0.13],[70.3,0.16],[71.7,0.2],[73.1,0.26],[74.1,0.37],[74.9,0.3],[75.9,0.28],[76.6,0.23],[77.7,0.21],[78.7,0.29],[79.7,0.28],[80.8,0.18],[81.9,0.08],[82.9,0.08],[83.9,0.2],[85,0.25],[86.2,0.31],[87.2,0.35],[88.3,0.31],[89.3,0.27],[90.4,0.25],[91.4,0.29],[92.1,0.33],[93.1,0.32],[94.2,0.28],[95.4,0.24],[96.3,0.24],[97.3,0.26],[98.2,0.32],[99.2,0.4],[100.1,0.39],[101,0.41],[101.7,0.33],[102.7,0.26],[103.7,0.21],[104.8,0.29],[105.8,0.34],[106.6,0.3],[107.6,0.31],[108.7,0.38],[109.7,0.44],[110.7,0.38],[111.8,0.34],[112.8,0.3],[113.9,0.26],[114.9,0.24],[115.8,0.33],[116.8,0.39],[117.7,0.36],[118.9,0.31],[119.9,0.28],[121,0.25],[121.7,0.23],[123.1,0.33],[123.8,0.26],[124.9,0.23],[125.9,0.26],[127,0.29],[128,0.3],[128.7,0.24],[129.9,0.26],[130.8,0.27],[131.5,0.26],[132.3,0.34],[133.7,0.4],[134.6,0.39],[135.8,0.36],[136.8,0.33],[137.6,0.35],[138.6,0.31],[139.3,0.3],[140,0.34],[141,0.33],[142.1,0.29],[143.1,0.24],[144.2,0.24],[145.2,0.36],[146,0.44],[147,0.39],[148.2,0.35],[149.2,0.32],[150.1,0.26],[151.3,0.2],[152.3,0.16],[153.4,0.22],[154.4,0.2],[155.5,0.18],[156.5,0.2],[157.3,0.24],[158.3,0.24],[159.4,0.26],[160.4,0.24],[161.1,0.2],[162.3,0.22],[163.2,0.25],[164.2,0.21],[165.1,0.22],[165.8,0.23],[166.5,0.27],[167.5,0.32],[168.2,0.28],[168.9,0.2],[169.6,0.08],[170.4,0.02],[171,0.1],[171.7,0.18],[172.4,0.26],[173.4,0.28],[174.2,0.13],[175.2,0.11],[176.3,0.13],[177.3,0.14],[178.3,0.17],[179.2,0.14],[180.1,0.11],[181.1,0.27],[182.3,0.18],[183,0.33],[183.7,0.43],[184.4,0.26],[185.1,0.21],[186.3,0.16],[187.2,0.1],[187.7,0.01],[188.2,0.13],[189.1,0.19],[190.1,0.2],[191,0.2],[191.6,0.25],[192.5,0.23],[193.6,0.09],[194.6,0.1],[195.7,0.18],[196.4,0.26],[197.6,0.35],[198.5,0.28],[199.5,0.3],[200.7,0.33],[201.7,0.31],[202.5,0.13],[203.5,0.04],[204.5,0.12],[205.6,0.15],[206.6,0.17],[207.7,0.21],[208.6,0.26],[209.4,0.24],[210.3,0.26],[211.3,0.26],[212.2,0.24],[213.1,0.2],[214.1,0.24],[214.8,0.19],[215.5,0.15],[216.2,0.18],[217.3,0.17],[218.5,0.15],[219.4,0.01],[220.2,0.13],[221.1,0.26],[221.8,0.35],[222.5,0.46],[223.3,0.26],[224.1,0.23],[225,0.22],[226.1,0.19],[226.8,0.16],[227.8,0.28],[228.6,0.2],[229.6,0.26],[230.6,0.38],[231.7,0.26],[232.4,0.12],[233.4,0.1],[234.3,0.11],[235.3,0.09],[236.2,0.08],[237.4,0.08],[238.5,0.01],[239.5,-0.06],[240.2,0.09],[241.3,0.13],[242.3,0.01],[243.3,0.11],[244.4,0.12],[245.4,0.05],[246.5,-0.02],[247.6,0.04],[248.7,0.09],[249.7,0.01],[250.7,0.06],[251.5,0.12],[252.5,0.01],[253.3,-0.03],[254.3,0.01],[255.3,-0.12],[256.2,-0.04],[257.2,0.07],[258.1,0.08],[259,0.06],[260,0.05],[261,-0.06],[261.8,0.05],[262.8,0.12],[263.5,0.13],[264.2,-0.02],[265.2,0.11],[266.1,0.12],[266.8,0.05],[267.8,-0.05],[268.5,-0.02],[269.4,0.06],[270.3,0.04],[271.3,-0.06],[272.3,-0.02],[273.4,-0.01],[274.4,0],[275.5,-0.06],[276.5,0.08],[277.4,0.03],[278.3,-0.07],[279.3,-0.07],[280.2,0.03],[281.2,0.13],[282.2,0.11],[283.1,-0.01],[284,-0.02],[285,-0.03],[286.1,-0.11],[287.1,-0.08],[288.2,-0.04],[289.2,0.01],[290.1,0],[291.1,-0.15],[292.1,-0.12],[292.9,-0.04],[293.9,0.01],[294.9,-0.1],[295.7,-0.01],[296.7,0],[297.4,-0.14],[298.1,-0.02],[299,0.01],[299.8,0.11],[300.7,0],[301.6,0.1],[302.6,0.01],[303.5,-0.06],[304.5,-0.08],[305.5,-0.08],[306.6,0.04],[307.4,0.1],[308.4,0.01],[309.1,-0.19],[310.1,-0.05],[311.1,-0.21],[311.9,-0.1],[312.9,-0.07],[313.9,-0.09],[314.8,-0.02],[315.8,-0.04],[316.5,-0.02],[317.5,-0.13],[318.3,-0.18],[319.3,-0.22],[320.3,-0.27],[321.1,-0.21],[322.1,-0.08],[323.1,0.01],[324,-0.11],[324.9,-0.09],[325.9,-0.14],[326.9,-0.11],[327.8,-0.11],[328.8,-0.1],[329.9,-0.08],[330.9,-0.02],[331.7,-0.01],[332.4,0.01],[333.4,-0.15],[334.3,0.01],[335.1,0.07],[336.2,-0.14],[337.2,-0.02],[338.1,0.03],[339.1,0.02],[340.1,-0.1],[340.9,-0.13],[341.9,-0.07],[342.9,-0.11],[343.7,-0.08],[344.4,-0.14],[345.4,-0.12],[346.4,-0.1],[347.3,-0.02],[348.3,-0.02],[349,-0.13],[350,0.05],[350.8,0.01],[351.8,0.02],[352.5,-0.2],[353.2,-0.35],[353.9,-0.02],[354.9,0.01],[356,-0.1],[357.2,-0.02],[358.1,0.07],[359.1,0.16],[360,0.01],[361,-0.06],[361.9,-0.11],[363,-0.12],[364,-0.08]];

// ---------- 下流端水質 (monthly) ----------
const qualDays = [14,36,71,104,126,154,191,224,253,281,305,334];
const tempSurface = [16.0,19.6,20.6,26.0,28.4,26.2,21.5,18.3,13.0,7.9,7.0,10.7];
const tempBottom  = [15.4,19.4,20.6,24.9,28.4,26.0,22.8,20.6,16.6,7.8,11.1,11.7];
const salSurface  = [31.3,31.3,32.5,28.4,23.1,24.5,25.3,22.7,25.6,25.0,31.0,29.4];
const salBottom   = [34.2,32.6,32.1,32.1,28.4,30.8,31.5,33.1,32.7,30.8,34.0,33.4];

// ---------- 観測水温と設定水温 ----------
const setTemp = [[0,13.4],[1.1,11.2],[2.2,9.7],[3.1,10.8],[3.9,13.8],[5.1,16],[6.2,16.3],[7.2,15.6],[8.1,15.5],[9.3,16.3],[10.4,17.1],[11.4,20],[12.1,22.2],[13.2,22.2],[14.2,18.9],[14.9,17.1],[16,17.4],[17,17.8],[18.1,18.5],[19.1,19.6],[20.2,21.5],[21.2,22.9],[22.2,23.4],[23,23.7],[23.7,21.8],[24.4,21.1],[25.4,20],[26.1,17.8],[27,18.9],[27.8,19.6],[29,21.5],[29.9,22.9],[30.6,24.8],[31.7,24],[32.9,21.8],[34,19.4],[34.8,21.8],[36,24],[37.1,24],[38.1,22.2],[39,20.4],[40.2,19.3],[41.3,19.6],[42.3,20],[43.3,19.8],[44.1,20],[45.1,20.7],[46.2,22],[47.2,22.7],[48.3,22.7],[49.3,22.9],[50.3,23.3],[51.4,24.8],[52.2,25.3],[53.1,24.8],[54.2,22.6],[55.3,21],[56.3,20.4],[57.3,22.2],[58.4,24.9],[59.1,25.3],[60.1,24.4],[61,23.3],[62,22.6],[62.9,22.6],[64,21.8],[65.2,21.5],[66.2,20.7],[67.1,20.4],[68.3,21],[69.1,21.5],[70,22.9],[71.1,22.9],[72.2,23.4],[73.2,23.3],[74.2,23.4],[75.3,22.9],[76.4,22.9],[77.4,23.4],[78.4,23.9],[79.5,24.2],[80.5,23.9],[81.6,23.3],[82.6,22.7],[83.7,23.7],[84.8,25.3],[85.7,28.4],[86.8,29.7],[87.6,28.8],[88.6,27.7],[89.6,27.3],[90.7,27.8],[91.9,28.8],[92.8,29.5],[93.8,30],[94.9,30],[96.1,29.9],[97.1,30.3],[98,31],[98.9,31.2],[99.9,31],[100.8,28.8],[102,27],[103.1,25.5],[104.1,25.9],[105.1,26.6],[106.2,27.5],[107.3,27.7],[108.3,27.7],[109.3,27.8],[110.4,28.3],[111.5,28.3],[112.5,28.6],[113.5,28.3],[114.6,29.2],[115.6,29.5],[116.4,30],[117.1,29.2],[118.1,28.1],[119.1,28.1],[120.2,29.2],[121.3,29.7],[122.3,30.5],[123.3,31.4],[124.4,31.9],[125.4,31.9],[126.5,31.7],[127.5,31],[128.7,29.9],[129.8,29],[130.8,29.9],[131.7,31],[132.9,31.4],[133.8,31],[135,30.8],[135.9,31.4],[136.8,31.7],[137.8,30.8],[138.8,30],[139.9,29],[141,29.2],[142,29.5],[143,29.9],[144.1,29.7],[145.2,30.4],[145.9,30.8],[146.9,29.9],[147.9,28.8],[149,27.8],[150,27.8],[151.1,27.7],[152.1,28.1],[153.2,27.8],[154.2,27.3],[155.3,26.8],[156.5,26.6],[157.4,26.7],[158.4,27.1],[159.6,27.5],[160.7,27.8],[161.7,28.1],[162.6,28.1],[163.8,28.2],[164.7,28.4],[165.9,28.6],[166.9,27.7],[168,26.2],[169.1,25.3],[170.1,26.6],[171.1,28.4],[172.2,30.3],[172.9,29.5],[173.6,27.3],[174.6,25.1],[175.7,24.4],[176.7,24.2],[177.8,24.6],[178.9,25.1],[179.9,25.9],[180.9,26.6],[182.5,26.6],[183.5,26.2],[184.5,24.8],[185.6,23.7],[186.8,22.9],[187.7,23.3],[188.7,23.7],[189.9,22.9],[191,22.2],[192,22.2],[193,22.6],[194.1,22.9],[195.1,24],[196,24.8],[197,24.2],[198.1,22.9],[199.1,22.2],[200.1,21.5],[201.2,20.5],[202.4,19.8],[203.4,20],[204.3,19.8],[205.5,19.6],[206.6,19.3],[207.6,19],[208.6,18.9],[209.7,19.3],[210.9,19.8],[211.9,20],[212.9,20],[214,19.5],[215.1,18.9],[216.1,18.4],[217.1,18.3],[218.2,18.2],[219.4,18],[220.4,18.3],[221.4,18.5],[222.2,17.6],[223.2,16.7],[224.2,16],[225.3,16.1],[226.5,16.7],[227.5,17.4],[228.5,18.2],[229.3,17.8],[230.3,15.2],[231.3,12.3],[232.1,10.5],[232.7,10.1],[233.6,10.5],[234.6,10.8],[235.6,11.6],[236.7,11.9],[237.8,12.2],[238.8,12.7],[239.5,13],[240.7,13],[241.6,12.3],[242.6,11.6],[243.7,11.9],[244.7,12.1],[245.6,11.9],[246.6,12.3],[247.6,12.1],[248.7,12.7],[249.7,12.9],[250.9,11.9],[251.9,10.8],[252.7,9.7],[253.7,9.7],[254.8,10.1],[255.8,11.2],[256.8,12.5],[257.9,13.4],[258.9,13.8],[260,13.4],[261,13.2],[262.2,13.2],[263.2,13.4],[264.3,12.3],[265.3,11.4],[266.5,11.2],[267.5,11.4],[268.6,10.8],[269.6,10.3],[270.7,10.1],[271.7,10.3],[272.6,11],[273.6,9.7],[274.7,8.3],[275.7,8.1],[276.7,8.6],[277.8,9],[278.8,8.6],[279.7,9.5],[280.7,8.3],[281.7,6.1],[282.5,4.6],[283.5,4.1],[284.5,6.4],[285.6,7.2],[286.6,7.5],[287.7,7.9],[288.7,8.3],[289.9,7.9],[290.9,7.5],[292,7.7],[293,7.9],[294.1,8.4],[295.1,8.8],[296.3,9.4],[297.3,10.5],[298,11],[298.8,10.8],[299.8,10.3],[300.8,9.7],[301.9,9.4],[303.1,8.3],[304.1,7.3],[305,6.4],[305.9,6.8],[306.6,7.8],[307.3,6.8],[308.3,5.3],[309,4.2],[309.7,3.5],[310.4,4.2],[311.4,6.1],[312.6,7.5],[313.6,8.6],[314.4,9.5],[315.4,9.4],[316.4,7.5],[317.3,5.7],[318.2,4.6],[319.2,4.6],[320.1,5.7],[321.1,8.3],[321.8,9.7],[322.5,10.1],[323.2,8.6],[323.9,7.5],[324.9,6.1],[325.8,5.3],[326.8,6.4],[327.8,7.5],[328.9,8.6],[329.9,9.4],[331,9.7],[332,9.4],[333.1,9],[334.1,10],[334.9,11.2],[335.9,12.3],[336.9,13.2],[337.8,13.2],[338.5,12.3],[339.5,10.3],[340.5,10],[341.6,10.1],[342.6,10],[343.7,9.7],[344.7,10.1],[345.6,11.6],[346.6,13.8],[347.6,14.7],[348.4,14.2],[349.4,13.8],[350.2,15.2],[351.2,15.8],[351.9,14.7],[352.7,12.3],[353.7,9.4],[354.7,7.9],[355.8,8.1],[356.5,9.4],[357.5,12.3],[358.4,14.9],[359.4,14.2],[360.4,12.3],[361.5,10.5],[362.6,9.4],[363.6,10.1],[364.6,9.8]];
const obsDays = [26.5,48.5,69.8,118.5,147.5,182.5,210.5,237.5,251.5,286.5,322.5,337.8];
const obsTemp = [19.5,25.6,21.0,27.3,27.3,22.1,18.2,10.6,9.5,4.2,7.0,10.6];

// ================= chart =================
const SERIF = '"Liberation Serif","DejaVu Serif","Noto Sans CJK JP",serif';
const CJK = '"Noto Sans CJK JP","Noto Sans",sans-serif';
const TXT = '#222';
const X_MAX = 365, X_INT = 365 / 12;

const gridDefs = [
  {left:104, top:36,   width:955, height:180},
  {left:102, top:269,  width:957, height:181},
  {left:102, top:501,  width:957, height:182},
  {left:102, top:734,  width:957, height:182},
  {left:104, top:967,  width:951, height:181},
  {left:102, top:1199, width:957, height:181}
];
const grid = gridDefs.map(g => Object.assign({show:true, borderColor:'#000', borderWidth:2, backgroundColor:'transparent'}, g));

const xAxis = gridDefs.map((g, i) => ({
  type:'value', gridIndex:i, min:0, max:X_MAX, interval:X_INT,
  axisLine:{show:false}, axisTick:{show:false},
  splitLine:{show:true, lineStyle:{color:'#333', width:1}},
  axisLabel:{show:i === 5, margin:16, fontSize:20, fontFamily:SERIF, color:TXT,
    formatter: v => { const k = Math.round(v / X_INT); return (Math.abs(v - k * X_INT) < 0.01 && k < xLabels.length) ? xLabels[k] : ''; }}
}));

const lab = (extra) => Object.assign({fontSize:20, fontFamily:SERIF, color:TXT, margin:14}, extra || {});
const split = {show:true, lineStyle:{color:'#222', width:1}};
const yAxis = [
  {type:'value', gridIndex:0, min:0, max:20, interval:5, axisLine:{show:false}, axisTick:{show:false}, splitLine:split, axisLabel:lab()},
  {type:'value', gridIndex:0, position:'right', min:0, max:20, interval:5, axisLine:{show:false}, axisTick:{show:false}, splitLine:{show:false},
    axisLabel:lab({fontFamily:CJK, fontSize:18, margin:16, color:'#333', formatter: v => dirLabels[Math.round(v / 5)]})},
  {type:'value', gridIndex:1, min:0, max:100, interval:20, axisLine:{show:false}, axisTick:{show:false}, splitLine:split, axisLabel:lab()},
  {type:'log', logBase:10, gridIndex:2, min:1, max:1000, axisLine:{show:false}, axisTick:{show:false},
    splitLine:{show:true, lineStyle:{color:'#000', width:1.2}}, axisLabel:lab({formatter: v => String(Math.round(v))})},
  {type:'value', gridIndex:3, min:-0.4, max:0.6, interval:0.2, axisLine:{show:false}, axisTick:{show:false}, splitLine:split,
    axisLabel:lab({formatter: v => v.toFixed(1).replace('-', '−')})},
  {type:'value', gridIndex:4, min:0, max:40, interval:10, axisLine:{show:true, lineStyle:{color:'#0000ff', width:2}}, axisTick:{show:false},
    splitLine:split, axisLabel:lab({formatter: v => v >= 40 ? '' : String(v)})},
  {type:'value', gridIndex:4, position:'right', min:0, max:40, interval:10, axisLine:{show:true, lineStyle:{color:'#b00000', width:2}}, axisTick:{show:false},
    splitLine:{show:false}, axisLabel:lab({margin:15, formatter: v => v >= 40 ? '' : String(v)})},
  {type:'value', gridIndex:5, min:0, max:40, interval:10, axisLine:{show:false}, axisTick:{show:false}, splitLine:split,
    axisLabel:lab({formatter: v => v >= 40 ? '' : v.toFixed(1)})}
];

const lineS = (name, data, xi, yi, color, width, extra) => Object.assign({
  name, type:'line', data, xAxisIndex:xi, yAxisIndex:yi, showSymbol:false, symbol:'none',
  lineStyle:{color, width}, itemStyle:{color}, z:3
}, extra || {});

const series = [
  lineS('風速', windSpeed, 0, 0, '#0000ff', 1.6),
  {name:'風向', type:'scatter', data:windDir, xAxisIndex:0, yAxisIndex:1, symbol:'rect', symbolSize:5,
    itemStyle:{color:'#ffffff', borderColor:'#2fc6c6', borderWidth:2.4}, z:4},
  {name:'雨量', type:'bar', data:rain, xAxisIndex:1, yAxisIndex:2, barWidth:3, clip:false,
    itemStyle:{color:'#000'}, z:3},
  {name:'minor', type:'line', data:[[0,1]], xAxisIndex:2, yAxisIndex:3, showSymbol:false, symbol:'none',
    lineStyle:{width:0}, z:1, silent:true,
    markLine:{silent:true, symbol:'none', label:{show:false}, animation:false, z:1,
      lineStyle:{color:'#111', width:1, type:'solid'}, data: minorLogLines.map(v => ({yAxis:v}))}},
  lineS('斐伊川', flowHii, 2, 3, '#000000', 2),
  lineS('宍道湖流入支川流入流量(斐伊川以外)', flowShinji, 2, 3, '#0000ff', 2),
  lineS('中海流入支川流入流量(大橋川以外)', flowNakaumi, 2, 3, '#ff0000', 2),
  lineS('水位', waterLevel, 3, 4, '#000000', 2),
  lineS('水温 (表層)', qualDays.map((d, i) => [d, tempSurface[i]]), 4, 5, '#1ec8f5', 2),
  lineS('水温 (底層)', qualDays.map((d, i) => [d, tempBottom[i]]), 4, 5, '#0a0ae6', 2),
  lineS('塩分(表層)', qualDays.map((d, i) => [d, salSurface[i]]), 4, 6, '#ffa000', 2),
  lineS('塩分(底層)', qualDays.map((d, i) => [d, salBottom[i]]), 4, 6, '#ff0000', 2),
  lineS('設定水温', setTemp, 5, 7, '#000080', 2),
  {name:'定期観測大津水温', type:'scatter', data:obsDays.map((d, i) => [d, obsTemp[i]]), xAxisIndex:5, yAxisIndex:7,
    symbol:'rect', symbolSize:8, itemStyle:{color:'#ffffff', borderColor:'#000080', borderWidth:2}, z:4}
];

const legTxt = {fontSize:20, fontFamily:CJK, color:TXT};
const asLine = names => names.map(n => ({name:n, icon:'rect'}));
const legend = [
  {data:asLine(['風速']), left:106, top:7, itemWidth:48, itemHeight:2.5, padding:0, textStyle:legTxt},
  {data:['風向'], left:242, top:7, itemWidth:7, itemHeight:7, padding:0, textStyle:Object.assign({padding:[0,0,0,22]}, legTxt)},
  {data:asLine(['斐伊川','宍道湖流入支川流入流量(斐伊川以外)','中海流入支川流入流量(大橋川以外)']), orient:'vertical',
    left:651, top:504, itemWidth:50, itemHeight:2.5, itemGap:4, padding:[2,4,2,4], backgroundColor:'#fff', textStyle:legTxt, z:20},
  {data:asLine(['水温 (表層)','水温 (底層)','塩分(表層)','塩分(底層)']), left:91, top:1114, itemWidth:46, itemHeight:2.5, itemGap:36,
    padding:[4,4,4,4], backgroundColor:'#fff', textStyle:legTxt, z:20},
  {data:asLine(['設定水温']), left:113, top:1343, itemWidth:48, itemHeight:2.5, padding:[2,4,2,4], backgroundColor:'#fff', textStyle:legTxt, z:20},
  {data:['定期観測大津水温'], left:275, top:1343, itemWidth:9, itemHeight:9, padding:[2,4,2,4], backgroundColor:'#fff',
    textStyle:Object.assign({padding:[0,0,0,20]}, legTxt), z:20}
];

const txt = (s, x, y, align, font) => ({type:'text', x, y, silent:true, z:10,
  style:{text:s, fill:TXT, font:'20px ' + (font || CJK), textAlign:align || 'center', textVerticalAlign:'middle'}});
const graphic = [
  txt('湖面風(中海湖心)', 588, 22),
  txt('雨量(松江)', 594, 255),
  txt('河川流入流量', 573, 483),
  txt('下流端水位(美保関)', 572, 714),
  txt('下流端水質(美保関)', 572, 953),
  txt('観測水温と設定水温', 577, 1180),
  txt('(m/s)', 22, 20, 'left', SERIF),
  txt('(mm/day)', 18, 248, 'left', SERIF),
  txt('(m3/s)', 8, 480, 'left', SERIF),
  txt('(H.P.m)', 10, 710, 'left', SERIF),
  txt('(℃)', 28, 960, 'left', SERIF),
  txt('(psu)', 1068, 950, 'left', SERIF),
  txt('(℃)', 22, 1178, 'left', SERIF)
];

const chart = echarts.init(document.getElementById('c'), null, {renderer:'canvas'});
chart.setOption({animation:false, backgroundColor:'#fff', grid, xAxis, yAxis, series, legend, graphic});
</script></body></html>
